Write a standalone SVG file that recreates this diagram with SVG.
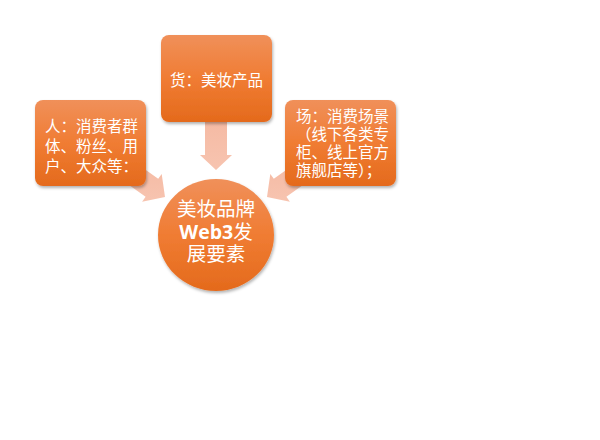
<svg xmlns="http://www.w3.org/2000/svg" width="600" height="440" viewBox="0 0 600 440">
<style>
.box{fill:url(#og);filter:url(#sh);}
.arrow{fill:url(#ag);}
.t{font-family:"Liberation Serif","Noto Sans CJK SC","Noto Sans CJK JP",serif;fill:#ffffff;font-size:15.5px;}
.c{font-family:"Liberation Serif","Noto Sans CJK SC","Noto Sans CJK JP",serif;fill:#ffffff;font-size:19.5px;text-anchor:middle;}
.w{font-family:"Open Sans","Liberation Sans",sans-serif;font-weight:bold;}
</style>
<defs>
<linearGradient id="og" x1="0" y1="0" x2="0" y2="1">
<stop offset="0" stop-color="#f0905a"/>
<stop offset="0.5" stop-color="#f07c33"/>
<stop offset="1" stop-color="#e46a1c"/>
</linearGradient>
<linearGradient id="ag" x1="0" y1="0" x2="0" y2="1">
<stop offset="0" stop-color="#f5b9a2"/>
<stop offset="1" stop-color="#f7c4b0"/>
</linearGradient>
<filter id="sh" x="-10%" y="-10%" width="125%" height="125%">
<feDropShadow dx="1" dy="2" stdDeviation="1.5" flood-color="#000000" flood-opacity="0.3"/>
</filter>
</defs>
<rect width="600" height="440" fill="#ffffff"/>
<g id="connectors">
<path class="arrow" d="M205,115 L227,115 L227,155 L232,155 L216,170 L200,155 L205,155 Z"/>
<path class="arrow" d="M130.3,159 L158.2,178.8 L161.7,173.9 L165,197 L142.1,201.7 L145.6,196.8 L117.7,177 Z"/>
<path class="arrow" d="M301.7,159 L273.8,178.8 L270.3,173.9 L267,197 L289.9,201.7 L286.4,196.8 L314.3,177 Z"/>
</g>
<g id="node-left">
<rect class="box" x="35" y="100" width="111" height="86" rx="8"/>
<text class="t" x="45" y="132"><tspan x="45" y="132">人：消费者群</tspan><tspan x="45" y="152">体、粉丝、用</tspan><tspan x="45" y="172">户、大众等：</tspan></text>
</g>
<g id="node-top">
<rect class="box" x="161" y="35" width="111" height="87" rx="8"/>
<text class="t" x="216.5" y="85.5" text-anchor="middle">货：美妆产品</text>
</g>
<g id="node-right">
<rect class="box" x="285" y="100" width="111" height="86" rx="8"/>
<text class="t" x="296" y="121.5"><tspan x="296" y="121.5">场：消费场景</tspan><tspan x="296" y="139.5">（线下各类专</tspan><tspan x="296" y="157.5">柜、线上官方</tspan><tspan x="296" y="175.5">旗舰店等）；</tspan></text>
</g>
<g id="node-center">
<ellipse cx="216" cy="235" rx="58" ry="56" fill="url(#og)" filter="url(#sh)"/>
<text class="c" x="216" y="216"><tspan x="216" y="216">美妆品牌</tspan><tspan x="216" y="239"><tspan class="w">Web3</tspan>发</tspan><tspan x="216" y="261">展要素</tspan></text>
</g>
</svg>
